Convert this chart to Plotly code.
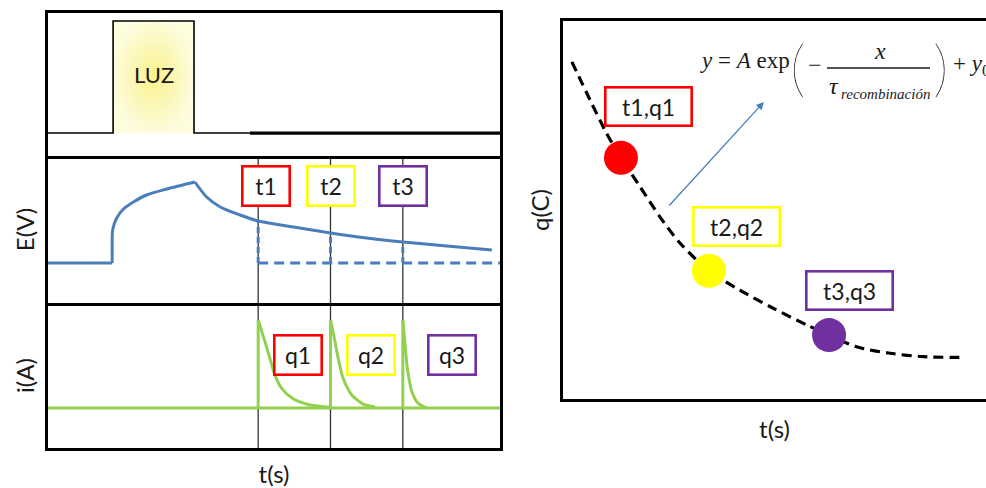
import plotly.graph_objects as go

W, H = 986, 488


def fx(px):
    return px / W


def fy(py):
    return 1 - py / H


# ---------------- data (arbitrary time units 0-100 on the left) ----------------
# light pulse
light_t = [0, 14.4, 14.4, 32.3, 32.3, 44.7]
light_v = [0, 0, 1, 1, 0, 0]
dark_t = [44.7, 100]
dark_v = [0, 0]

# photovoltage E(V)
E_base_t = [0, 14.2]
E_base_v = [0, 0]
E_rise_t = [14.2, 14.2, 14.3, 15.2, 16.7, 18.9, 21.8, 26.3, 32.5]
E_rise_v = [0, 1.6, 3.3, 4.5, 5.4, 6.1, 6.8, 7.4, 8.1]
E_decay_t = [32.5, 35.1, 38.1, 42.5, 46.5, 54.3, 62.5, 70.5, 78.5, 88.2, 98.2]
E_decay_v = [8.1, 6.6, 5.6, 4.8, 4.2, 3.6, 3.0, 2.5, 2.1, 1.7, 1.3]
E_dark_t = [46.5, 100]
E_dark_v = [0, 0]

# sampling instants
t_marks = [46.5, 62.5, 78.5]
E_marks = [4.2, 3.0, 2.1]
t_labels = ["t1", "t2", "t3"]
q_labels = ["q1", "q2", "q3"]
tq_labels = ["t1,q1", "t2,q2", "t3,q3"]
mark_colors = ["#ff0000", "#ffff00", "#7030a0"]

# discharge current i(A)
i_base_t = [0, 100]
i_base_v = [0, 0]
i_decay_t = [
    [46.5, 48.0, 49.1, 50.2, 51.7, 54.3, 58.0, 62.4],
    [62.5, 63.5, 64.2, 65.3, 67.2, 69.8, 72.3],
    [78.5, 79.0, 79.5, 80.5, 81.9, 83.8],
]
i_decay_v = [
    [1.0, 0.754, 0.564, 0.375, 0.223, 0.102, 0.034, 0.008],
    [1.0, 0.754, 0.564, 0.337, 0.148, 0.042, 0.015],
    [1.0, 0.716, 0.451, 0.186, 0.053, 0.0],
]
i_peak = 1.0

# extracted charge vs time
fit_t = [2.1, 6.4, 10.3, 13.7, 18.2, 22.9, 27.7, 34.5, 41.8, 49.7, 57.6, 62.9,
         69.4, 77.3, 85.2, 94.6]
fit_q = [89.2, 79.1, 70.3, 63.8, 56.2, 48.2, 41.2, 33.9, 28.8, 24.0, 19.6, 16.9,
         13.8, 12.1, 11.2, 11.0]
pt_t = [13.7, 34.5, 62.9]
pt_q = [63.8, 33.9, 16.9]

# ---------------- styles ----------------
BLUE = "#4a7ebb"
GREEN = "#92d050"
FONT = "Lato"
SERIF = "Liberation Serif"
INK = "#1a1a1a"

fig = go.Figure()

# --- light panel ---
fig.add_trace(go.Scatter(
    x=light_t[1:5], y=light_v[1:5], mode="lines", fill="toself",
    fillgradient=dict(type="radial",
                      colorscale=[[0, "#fbf38c"], [0.55, "#fbf7b8"], [1, "#fdfcdc"]]),
    line=dict(width=0), xaxis="x", yaxis="y", hoverinfo="skip"))
fig.add_trace(go.Scatter(x=light_t, y=light_v, mode="lines",
                         line=dict(color="black", width=1.6), xaxis="x", yaxis="y"))
fig.add_trace(go.Scatter(x=dark_t, y=dark_v, mode="lines",
                         line=dict(color="black", width=3.2), xaxis="x", yaxis="y"))

# --- photovoltage panel ---
fig.add_trace(go.Scatter(x=E_base_t, y=E_base_v, mode="lines",
                         line=dict(color=BLUE, width=3), xaxis="x2", yaxis="y2"))
fig.add_trace(go.Scatter(x=E_rise_t, y=E_rise_v, mode="lines",
                         line=dict(color=BLUE, width=3, shape="spline", smoothing=0.8),
                         xaxis="x2", yaxis="y2"))
fig.add_trace(go.Scatter(x=E_decay_t, y=E_decay_v, mode="lines",
                         line=dict(color=BLUE, width=3, shape="spline", smoothing=0.8),
                         xaxis="x2", yaxis="y2"))
fig.add_trace(go.Scatter(x=E_dark_t, y=E_dark_v, mode="lines",
                         line=dict(color=BLUE, width=3, dash="10px,6px"),
                         xaxis="x2", yaxis="y2"))
drop_x, drop_y = [], []
for t, e in zip(t_marks, E_marks):
    drop_x += [t, t, None]
    drop_y += [0, e, None]
fig.add_trace(go.Scatter(x=drop_x, y=drop_y, mode="lines",
                         line=dict(color=BLUE, width=3, dash="6px,4px"),
                         xaxis="x2", yaxis="y2"))

# --- current panel ---
fig.add_trace(go.Scatter(x=i_base_t, y=i_base_v, mode="lines",
                         line=dict(color=GREEN, width=3), xaxis="x3", yaxis="y3"))
spike_x, spike_y = [], []
for t in t_marks:
    spike_x += [t, t, None]
    spike_y += [0, i_peak, None]
fig.add_trace(go.Scatter(x=spike_x, y=spike_y, mode="lines",
                         line=dict(color=GREEN, width=3), xaxis="x3", yaxis="y3"))
for tx, vy in zip(i_decay_t, i_decay_v):
    fig.add_trace(go.Scatter(x=tx, y=vy, mode="lines",
                             line=dict(color=GREEN, width=3, shape="spline", smoothing=0.7),
                             xaxis="x3", yaxis="y3"))

# --- charge vs time panel ---
fig.add_trace(go.Scatter(x=fit_t, y=fit_q, mode="lines",
                         line=dict(color="black", width=3.2, dash="10px,6px",
                                   shape="spline", smoothing=0.8),
                         xaxis="x4", yaxis="y4"))
fig.add_trace(go.Scatter(x=pt_t, y=pt_q, mode="markers",
                         marker=dict(size=34, color=mark_colors, line=dict(width=0)),
                         xaxis="x4", yaxis="y4"))

# --- sampling lines through E and i panels ---
shapes = []
for t in t_marks:
    shapes.append(dict(type="line", xref="x2", yref="paper", x0=t, x1=t,
                       y0=fy(448), y1=fy(156), layer="below",
                       line=dict(color="#333333", width=1.3)))
# fraction bar of the fit equation
shapes.append(dict(type="line", xref="paper", yref="paper", x0=fx(827), x1=fx(930),
                   y0=fy(68), y1=fy(68), line=dict(color=INK, width=1.5)))

annotations = []


def boxed(text, x, y, xref, yref, color, w, h):
    annotations.append(dict(text=text, x=x, y=y, xref=xref, yref=yref, showarrow=False,
                            font=dict(family=FONT, size=23, color=INK),
                            bordercolor=color, borderwidth=2.6, borderpad=0,
                            bgcolor="white", width=w, height=h,
                            xanchor="center", yanchor="middle"))


# labels over the E panel, q labels in the i panel, (t,q) labels on the right
tbox_dx = [1.7, 0, 0]
for k in range(3):
    boxed(t_labels[k], t_marks[k] + tbox_dx[k], 7.7, "x2", "y2", mark_colors[k], 45, 37)
qbox_x = [55.3, 71.5, 89.3]
for k in range(3):
    boxed(q_labels[k], qbox_x[k], 0.6, "x3", "y3", mark_colors[k], 45, 37)
tqbox_pos = [(20.2, 77.4), (41.1, 45.6), (67.7, 28.7)]
for k in range(3):
    boxed(tq_labels[k], tqbox_pos[k][0], tqbox_pos[k][1], "x4", "y4",
          mark_colors[k], 84, 36)

annotations.append(dict(text="LUZ", x=(light_t[1] + light_t[3]) / 2, y=0.52,
                        xref="x", yref="y", showarrow=False,
                        font=dict(family=FONT, size=22, color=INK)))

# arrow pointing to the fit equation
annotations.append(dict(x=47.5, y=78.6, ax=24.8, ay=50.8, xref="x4", yref="y4",
                        axref="x4", ayref="y4", showarrow=True, arrowhead=2,
                        arrowsize=1.2, arrowwidth=1.3, arrowcolor=BLUE, text=""))


def eq(text, px, py, size=24, xanchor="center", family=SERIF, weight=None):
    f = dict(family=family, size=size, color=INK)
    if weight is not None:
        f["weight"] = weight
    annotations.append(dict(text=text, x=fx(px), y=fy(py), xref="paper", yref="paper",
                            showarrow=False, xanchor=xanchor, yanchor="middle", font=f))


eq("<i>y</i> = <i>A</i> exp", 698, 60, size=23, xanchor="left")
eq("(", 798, 66, size=62, family=FONT, weight=200)
eq("\u2212", 815, 65)
eq("<i>x</i>", 880, 51)
eq("<i>\u03c4</i>", 834, 86)
eq("<i>recombinación</i>", 885, 94, size=15)
eq(")", 941, 66, size=62, family=FONT, weight=200)
eq("+ <i>y</i><sub>0</sub>", 951, 65, size=23, xanchor="left")

axis_common = dict(showgrid=False, zeroline=False, showticklabels=False, ticks="",
                   showline=True, linecolor="black", linewidth=3, automargin=False)
title_font = dict(family=FONT, size=24, color=INK)
left_dom = [fx(48), fx(500)]

fig.update_layout(
    width=W, height=H, margin=dict(l=0, r=0, t=0, b=0),
    paper_bgcolor="white", plot_bgcolor="rgba(0,0,0,0)", showlegend=False,
    xaxis=dict(axis_common, domain=left_dom, range=[0, 100], anchor="y", mirror=True),
    yaxis=dict(axis_common, domain=[fy(156), fy(13)], range=[-0.205, 1.071],
               anchor="x", mirror=True),
    xaxis2=dict(axis_common, domain=left_dom, range=[0, 100], anchor="y2", mirror=False),
    yaxis2=dict(axis_common, domain=[fy(303), fy(156)], range=[-4.0, 10.7],
                anchor="x2", mirror=True,
                title=dict(text="E(V)", font=title_font, standoff=4)),
    xaxis3=dict(axis_common, domain=left_dom, range=[0, 100], anchor="y3", mirror=False,
                title=dict(text="t(s)", font=title_font, standoff=21)),
    yaxis3=dict(axis_common, domain=[fy(448), fy(303)], range=[-0.4545, 1.193],
                anchor="x3", mirror=True,
                title=dict(text="i(A)", font=title_font, standoff=4)),
    xaxis4=dict(axis_common, domain=[fx(563), 1], range=[0, 100], anchor="y4",
                mirror=True, title=dict(text="t(s)", font=title_font, standoff=21)),
    yaxis4=dict(axis_common, domain=[fy(399), fy(21)], range=[0, 100], anchor="x4",
                mirror=False, title=dict(text="q(C)", font=title_font, standoff=4)),
    shapes=shapes, annotations=annotations,
)

fig.write_html("out.html")
